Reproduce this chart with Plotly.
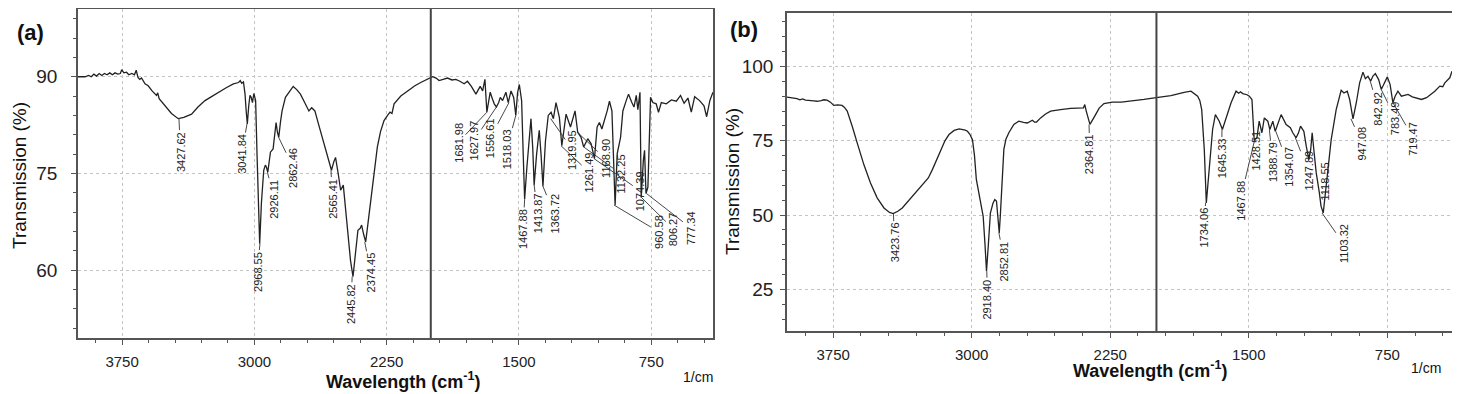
import plotly.graph_objects as go

# ---------------- data: panel (a) ----------------
wn_a = [4000, 3960, 3940, 3925, 3910, 3895, 3880, 3865, 3850, 3835, 3820, 3805, 3790, 3775, 3760, 3752,
        3740, 3725, 3712, 3695, 3680, 3670, 3660, 3650, 3640, 3620, 3602, 3580, 3555, 3548, 3540, 3507,
        3470, 3432, 3400, 3356, 3320, 3280, 3240, 3205, 3160, 3119, 3090, 3080, 3072, 3062, 3053, 3046,
        3040, 3032, 3025, 3018, 3011, 3003, 2993, 2985, 2978, 2970, 2960, 2947, 2938, 2932, 2924, 2916,
        2909, 2894, 2877, 2870, 2862, 2852, 2843, 2824, 2800, 2780, 2760, 2739, 2715, 2691, 2675, 2657,
        2640, 2615, 2590, 2563, 2550, 2540, 2525, 2511, 2496, 2485, 2473, 2455, 2441, 2428, 2413, 2400,
        2392, 2380, 2369, 2355, 2341, 2320, 2303, 2285, 2265, 2245, 2231, 2220, 2208, 2170, 2132, 2090,
        2057, 2020, 1990, 1970, 1953, 1930, 1905, 1880, 1858, 1835, 1811, 1792, 1770, 1744, 1730, 1720,
        1706, 1693, 1682, 1670, 1663, 1650, 1640, 1628, 1615, 1606, 1593, 1574, 1561, 1545, 1530, 1518,
        1508, 1498, 1485, 1476, 1468, 1455, 1442, 1432, 1422, 1414, 1400, 1385, 1375, 1364, 1350, 1334,
        1318, 1305, 1290, 1271, 1257, 1233, 1208, 1182, 1167, 1148, 1133, 1110, 1091, 1072, 1057, 1044,
        1030, 1015, 1000, 987, 973, 955, 943, 924, 911, 892, 879, 860, 848, 835, 826, 814, 807, 795, 788,
        780, 769, 754, 741, 722, 709, 693, 665, 636, 608, 584, 564, 542, 523, 504, 476, 451, 436, 418,
        405, 400]
t_a = [90.0, 90.0, 90.2, 90.0, 90.4, 90.1, 90.5, 90.2, 90.5, 90.3, 90.6, 90.3, 90.6, 90.4, 90.5, 91.1,
       90.6, 90.7, 90.3, 90.5, 90.3, 91.0, 89.9, 89.6, 89.8, 88.9, 88.6, 87.8, 87.1, 87.5, 86.6, 85.5,
       84.3, 83.5, 83.7, 84.2, 85.3, 86.3, 87.0, 87.6, 88.3, 88.9, 89.1, 89.4, 89.0, 89.2, 87.3, 84.5,
       82.7, 85.5, 87.1, 86.8, 86.0, 87.4, 86.3, 78.0, 70.0, 64.1, 70.5, 75.5, 76.3, 76.0, 75.2, 77.5,
       78.3, 78.8, 82.9, 81.5, 80.6, 83.0, 84.7, 86.8, 87.8, 88.5, 88.0, 87.3, 86.0, 84.7, 85.2, 84.7,
       83.0, 80.6, 78.0, 75.5, 76.8, 77.5, 75.0, 72.4, 73.2, 70.0, 66.7, 61.5, 59.0, 62.5, 66.2, 66.5,
       67.0, 65.5, 64.4, 67.5, 70.8, 75.5, 79.1, 81.5, 83.2, 84.0, 84.5, 84.3, 85.8, 87.0, 87.8, 88.6,
       89.1, 89.6, 90.0, 89.8, 89.4, 89.6, 89.8, 89.5, 89.6, 89.3, 88.9, 89.3, 88.5, 87.3, 88.0, 88.5,
       87.8, 89.6, 84.5, 86.5, 87.6, 86.5, 85.8, 85.3, 86.0, 86.8, 86.3, 87.6, 86.0, 87.8, 86.8, 84.0,
       87.5, 88.8, 86.3, 78.0, 71.0, 76.0, 81.0, 83.5, 79.0, 73.2, 78.0, 81.7, 78.0, 73.0, 80.0, 84.0,
       84.5, 83.5, 86.0, 83.7, 79.3, 84.2, 82.2, 84.7, 81.4, 80.6, 79.1, 80.4, 79.6, 77.3, 82.2, 82.9,
       81.9, 83.2, 84.7, 86.2, 84.7, 70.1, 78.1, 80.6, 84.7, 86.3, 87.3, 86.0, 85.3, 87.1, 84.9, 87.6,
       71.3, 77.0, 78.6, 71.9, 72.9, 86.8, 86.0, 85.8, 84.5, 86.0, 85.8, 86.4, 86.2, 87.1, 85.9, 86.7,
       84.5, 86.9, 86.3, 85.5, 83.8, 86.3, 87.3, 87.6]

peaks_a = [3427.62, 3041.84, 2968.55, 2926.11, 2862.46, 2565.41, 2445.82, 2374.45, 1681.98, 1627.97,
           1556.61, 1518.03, 1467.88, 1413.87, 1363.72, 1319.95, 1261.49, 1168.90, 1132.25, 1074.39,
           960.58, 806.27, 777.34]
peak_t_a = [83.5, 82.7, 64.1, 75.2, 80.6, 75.5, 59.0, 64.4, 84.5, 85.3, 86.0, 84.0, 71.0, 73.2, 73.0,
            83.5, 79.3, 81.4, 79.1, 77.3, 70.1, 71.3, 71.9]

# ---------------- data: panel (b) ----------------
wn_b = [4000, 3975, 3946, 3930, 3915, 3900, 3891, 3870, 3855, 3837, 3815, 3800, 3783, 3765, 3747, 3725,
        3702, 3690, 3674, 3660, 3647, 3620, 3584, 3548, 3512, 3475, 3445, 3425, 3400, 3376, 3350, 3322,
        3290, 3258, 3235, 3213, 3190, 3168, 3145, 3123, 3095, 3068, 3050, 3035, 3023, 3010, 2996, 2985,
        2975, 2965, 2953, 2938, 2928, 2920, 2910, 2899, 2885, 2875, 2866, 2858, 2851, 2845, 2840, 2826,
        2815, 2799, 2772, 2745, 2720, 2699, 2672, 2660, 2649, 2627, 2600, 2573, 2519, 2464, 2395, 2388,
        2380, 2360, 2334, 2310, 2284, 2238, 2190, 2139, 2067, 2030, 1976, 1922, 1850, 1813, 1777, 1765,
        1755, 1741, 1730, 1714, 1696, 1681, 1660, 1643, 1624, 1596, 1569, 1555, 1545, 1533, 1510, 1497,
        1483, 1471, 1456, 1444, 1429, 1416, 1397, 1386, 1370, 1357, 1325, 1298, 1275, 1262, 1244, 1232,
        1220, 1202, 1189, 1175, 1165, 1157, 1148, 1135, 1118, 1109, 1097, 1081, 1054, 1027, 1000, 985,
        967, 954, 936, 918, 900, 882, 869, 855, 840, 828, 815, 797, 783, 773, 750, 735, 720, 708, 693,
        674, 655, 638, 615, 593, 565, 538, 515, 493, 466, 450, 439, 412, 400]
t_b = [89.7, 89.5, 89.2, 88.8, 89.1, 88.7, 88.7, 88.5, 88.4, 88.3, 88.5, 88.8, 88.7, 88.0, 86.9, 87.1,
       86.9, 86.3, 85.0, 82.5, 79.9, 74.3, 67.0, 60.8, 55.8, 52.4, 50.9, 50.5, 51.3, 52.4, 54.3, 56.3,
       58.6, 60.8, 62.5, 65.3, 68.8, 72.1, 75.0, 77.1, 78.5, 79.0, 78.8, 78.6, 78.2, 77.2, 75.4, 70.0,
       62.0, 58.5, 55.2, 49.6, 40.0, 31.1, 40.0, 50.7, 54.0, 55.2, 54.7, 50.0, 44.0, 50.0, 55.2, 72.1,
       75.5, 77.7, 80.5, 81.6, 81.2, 81.0, 81.9, 81.3, 81.3, 82.7, 84.0, 85.0, 85.5, 85.9, 86.1, 87.2,
       85.0, 80.5, 83.3, 86.0, 87.5, 88.0, 88.0, 88.3, 88.9, 89.3, 89.8, 90.2, 91.3, 91.7, 90.0, 88.5,
       85.5, 72.1, 54.1, 66.4, 78.8, 83.8, 81.6, 78.8, 82.2, 87.8, 91.7, 91.0, 91.5, 90.9, 90.5, 90.0,
       88.9, 75.4, 76.0, 81.6, 77.7, 82.7, 81.6, 78.8, 81.6, 78.2, 83.8, 80.5, 79.4, 77.7, 76.0, 77.5,
       79.9, 78.2, 73.2, 68.7, 72.0, 77.7, 72.0, 64.2, 57.5, 53.0, 50.7, 59.7, 75.4, 85.5, 92.0, 91.1,
       91.7, 88.9, 82.4, 87.8, 94.5, 98.1, 95.9, 96.7, 95.1, 96.8, 97.6, 95.6, 92.3, 93.5, 96.5, 93.9,
       87.8, 90.0, 91.7, 90.0, 90.3, 90.6, 89.8, 89.5, 88.9, 89.5, 90.6, 91.7, 93.4, 93.2, 94.5, 96.2,
       98.4]

peaks_b = [3423.76, 2918.40, 2852.81, 2364.81, 1734.06, 1645.33, 1467.88, 1428.51, 1388.79, 1354.07,
           1247.89, 1118.55, 1103.32, 947.08, 842.92, 783.49, 719.47]
peak_t_b = [50.5, 31.1, 44.0, 80.5, 54.1, 78.8, 75.4, 77.7, 78.8, 78.2, 76.0, 60.0, 50.7, 82.4, 95.1,
            92.3, 87.8]

# ---------------- label placement (layout only) ----------------
lab_pos_a = [(3419, 78.4), (3072, 78.0), (2983, 59.8), (2886, 71.0), (2778, 75.8), (2559, 71.1),
             (2451, 54.8), (2341, 59.6), (1845, 79.8), (1756, 80.1), (1663, 80.5), (1570, 78.7),
             (1477, 66.4), (1394, 68.8), (1301, 68.8), (1195, 78.6), (1102, 75.2), (1011, 77.3),
             (920, 74.9), (812, 72.3), (710, 66.0), (625, 66.4), (528, 66.6)]
lab_pos_b = [(3418, 40.7), (2915, 21.7), (2823, 34.5), (2361, 70.4), (1743, 45.8), (1647, 69.0),
             (1547, 54.9), (1461, 71.7), (1370, 67.8), (1282, 66.3), (1179, 65.0), (1086, 61.4),
             (988, 40.4), (887, 74.1), (799, 85.9), (707, 82.7), (609, 75.8)]

# The page body adds an 8px margin; the figure is sized/positioned to compensate.
OFF = 8
W, H = 1460 - OFF, 394 - OFF
FONT = "Liberation Sans, Arial, sans-serif"
INK = "#222222"
AX = "#555555"


def fx(px):
    return (px - OFF) / W


def fy(py):
    return 1 - (py - OFF) / H


fig = go.Figure()
fig.add_trace(go.Scatter(x=wn_a, y=t_a, mode="lines", line=dict(color=INK, width=1.3),
                         xaxis="x", yaxis="y", showlegend=False, hoverinfo="skip"))
fig.add_trace(go.Scatter(x=wn_b, y=t_b, mode="lines", line=dict(color=INK, width=1.3),
                         xaxis="x2", yaxis="y2", showlegend=False, hoverinfo="skip"))


def xax(domain, anchor):
    return dict(domain=domain, anchor=anchor, range=[4000, 400], tick0=0, dtick=750,
                showgrid=True, gridcolor="#c4c4c4", griddash="dot", gridwidth=1,
                showline=True, linecolor=AX, linewidth=1.5, mirror=True, zeroline=False,
                ticks="outside", ticklen=5, tickcolor=AX,
                minor=dict(dtick=150, ticks="outside", ticklen=3, tickcolor=AX, showgrid=False),
                tickfont=dict(family=FONT, size=15, color=INK), ticklabelstandoff=4)


def yax(domain, anchor, rng, dt, mdt, standoff):
    return dict(domain=domain, anchor=anchor, range=rng, tick0=0, dtick=dt,
                showgrid=True, gridcolor="#c4c4c4", griddash="dot", gridwidth=1,
                showline=True, linecolor=AX, linewidth=1.5, mirror=True, zeroline=False,
                ticks="outside", ticklen=5, tickcolor=AX,
                minor=dict(dtick=mdt, ticks="outside", ticklen=3, tickcolor=AX, showgrid=False),
                tickfont=dict(family=FONT, size=19, color=INK), ticklabelstandoff=standoff)


ann = []
for lbl, pt, (lx, ly) in zip(peaks_a, peak_t_a, lab_pos_a):
    ann.append(dict(x=lbl, y=pt, xref="x", yref="y", ax=lx, ay=ly, axref="x", ayref="y",
                    text=f"{lbl:.2f}", textangle=-90, showarrow=True, arrowhead=0, arrowwidth=0.9,
                    arrowcolor="#333", standoff=0, startstandoff=0,
                    font=dict(family=FONT, size=11, color=INK)))
for lbl, pt, (lx, ly) in zip(peaks_b, peak_t_b, lab_pos_b):
    ann.append(dict(x=lbl, y=pt, xref="x2", yref="y2", ax=lx, ay=ly, axref="x2", ayref="y2",
                    text=f"{lbl:.2f}", textangle=-90, showarrow=True, arrowhead=0, arrowwidth=0.9,
                    arrowcolor="#333", standoff=0, startstandoff=0,
                    font=dict(family=FONT, size=11, color=INK)))


def pa(text, px, py, size, bold=False, angle=0):
    return dict(text=f"<b>{text}</b>" if bold else text, x=fx(px), y=fy(py), xref="paper",
                yref="paper", showarrow=False, textangle=angle, xanchor="center", yanchor="middle",
                font=dict(family=FONT, size=size, color="#111"))


ann += [
    pa("(a)", 30, 32, 22, bold=True),
    pa("(b)", 744, 30, 22, bold=True),
    pa("Transmission (%)", 19, 176, 19, angle=-90),
    pa("Transmission (%)", 732, 182, 19, angle=-90),
    pa("Wavelength (cm<sup>-1</sup>)", 404, 380, 18, bold=True),
    pa("Wavelength (cm<sup>-1</sup>)", 1150, 369, 18, bold=True),
    pa("1/cm", 698, 377, 14),
    pa("1/cm", 1426, 368, 14),
]

shapes = [
    dict(type="line", xref="x", yref="y domain", x0=2000, x1=2000, y0=0, y1=1,
         line=dict(color="#444", width=2)),
    dict(type="line", xref="x2", yref="y2 domain", x0=2000, x1=2000, y0=0, y1=1,
         line=dict(color="#444", width=2)),
]

fig.update_layout(
    width=W, height=H, margin=dict(l=0, r=0, t=0, b=0),
    paper_bgcolor="white", plot_bgcolor="white", showlegend=False,
    xaxis=xax([fx(78), fx(713)], "y"),
    yaxis=yax([fy(338), fy(9)], "x", [49.5, 100.5], 15, 3, 10),
    xaxis2=xax([fx(787), fx(1452)], "y2"),
    yaxis2=yax([fy(331), fy(13)], "x2", [11, 118], 25, 5, 3),
    annotations=ann, shapes=shapes,
)

fig.write_html("out.html")
